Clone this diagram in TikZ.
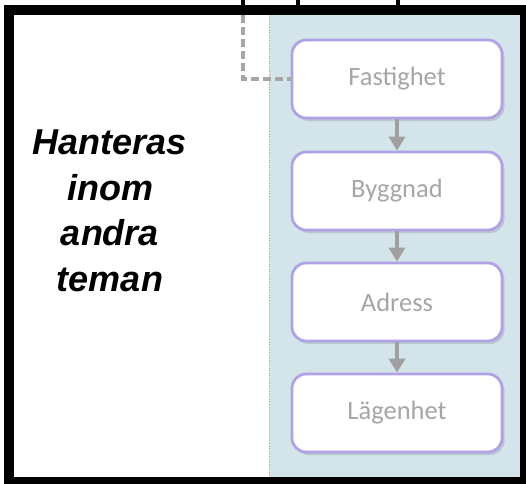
\documentclass[tikz,border=0pt]{standalone}
\usepackage{fontspec}
\setmainfont{Liberation Sans}
\newfontfamily\boxfont{Carlito}
\usetikzlibrary{arrows.meta,shadows}
\definecolor{panelblue}{HTML}{D3E4EA}
\definecolor{boxedge}{HTML}{B0A2E6}
\definecolor{boxtext}{HTML}{A6A6A6}
\definecolor{arrowgray}{HTML}{A0A0A0}
\definecolor{dashgray}{HTML}{A6A6A6}
\definecolor{sepline}{HTML}{A89BE0}
\tikzset{
  entity/.style={draw=boxedge, line width=2.8pt, fill=white, rounded corners=14pt,
    minimum width=210pt, minimum height=78pt, inner sep=0pt,
    font=\boxfont\fontsize{26.5}{30}\selectfont, text=boxtext,
    drop shadow={shadow xshift=2.5pt, shadow yshift=-3pt, opacity=0.12, fill=black}},
  flow/.style={draw=arrowgray, line width=4.5pt, -{Triangle[width=16pt,length=14pt]}},
  link/.style={draw=dashgray, line width=4pt, dash pattern=on 8pt off 4pt},
  feed/.style={draw=black, line width=3.5pt}
}
\begin{document}
\begin{tikzpicture}[x=1pt,y=-1pt]
\useasboundingbox (0,0) rectangle (526,483);
% panel
\fill[panelblue] (269,14) rectangle (521,478);
\draw[sepline, line width=0.6pt, dotted] (269,14) -- (269,478);
% frame
\draw[black, line width=10pt] (8.5,10) rectangle (525,482);
% boxes
\node[entity] (fast) at (397,79) {Fastighet};
\node[entity] (bygg) at (397,191) {Byggnad};
\node[entity] (adr) at (397,302) {Adress};
\node[entity] (lgh) at (397,413) {Lägenhet};
\draw[flow] (fast.south) -- (bygg.north);
\draw[flow] (bygg.south) -- (adr.north);
\draw[flow] (adr.south) -- (lgh.north);
% incoming lines from above
\coordinate (inA) at (243,0);
\coordinate (inAf) at (243,15);
\coordinate (inB) at (298,0);
\coordinate (inBf) at (298,10);
\coordinate (inC) at (398,0);
\coordinate (inCf) at (398,10);
\draw[feed] (inA) -- (inAf);
\draw[feed] (inB) -- (inBf);
\draw[feed] (inC) -- (inCf);
\draw[link] (inAf) |- (fast.west);
% left text
\node[font=\fontsize{36}{45.5}\selectfont\bfseries\itshape, align=center, inner sep=0pt] (note) at (110,211)
  {Hanteras\\inom\\andra\\teman};
\end{tikzpicture}
\end{document}
